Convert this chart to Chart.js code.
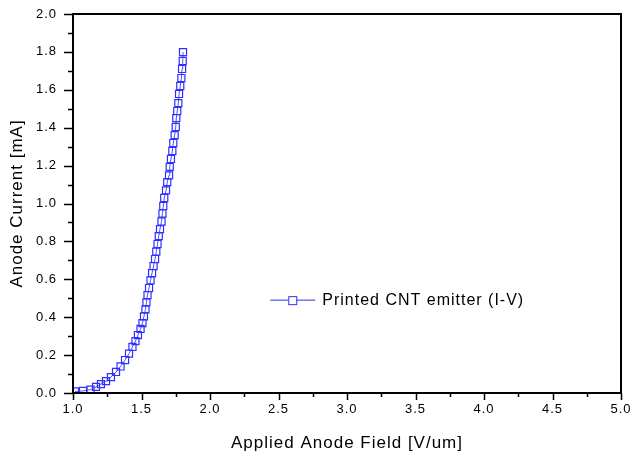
<!DOCTYPE html>
<html>
<head>
<meta charset="utf-8">
<script src="https://cdn.jsdelivr.net/npm/chart.js@4/dist/chart.umd.min.js"></script>
<style>
  html, body { margin: 0; padding: 0; background: #fff; }
  canvas { display: block; }
</style>
</head>
<body>
<canvas id="grafica" width="634" height="458"></canvas>
<script>
// Applied anode field [V/um] and anode current [mA]
const fieldValues = [1.015, 1.073, 1.128, 1.168, 1.204, 1.241, 1.277, 1.314, 1.347, 1.380,
  1.409, 1.434, 1.456, 1.474, 1.493, 1.507, 1.518, 1.529, 1.536, 1.544,
  1.555, 1.566, 1.577, 1.588, 1.599, 1.608, 1.617, 1.626, 1.635, 1.646,
  1.653, 1.659, 1.666, 1.679, 1.688, 1.701, 1.706, 1.715, 1.725, 1.732,
  1.742, 1.750, 1.754, 1.761, 1.769, 1.774, 1.783, 1.791, 1.796, 1.801, 1.803];
const currentValues = [0.008, 0.011, 0.018, 0.032, 0.047, 0.063, 0.084, 0.111, 0.140, 0.174,
  0.208, 0.243, 0.274, 0.306, 0.338, 0.369, 0.404, 0.441, 0.478, 0.517,
  0.554, 0.594, 0.633, 0.670, 0.707, 0.746, 0.786, 0.828, 0.865, 0.905,
  0.947, 0.987, 1.029, 1.069, 1.113, 1.148, 1.193, 1.235, 1.277, 1.319,
  1.361, 1.404, 1.451, 1.488, 1.530, 1.578, 1.620, 1.662, 1.710, 1.752, 1.799];

const serieNombre = 'Printed CNT emitter (I-V)';
const xTitulo = 'Applied Anode Field [V/um]';
const yTitulo = 'Anode Current [mA]';
const xRango = [1.0, 5.0];
const yRango = [0.0, 2.0];
const xPaso = 0.5;
const yPaso = 0.2;

const azul = '#2f2fff';
const fuente = 'Liberation Sans, Arial, sans-serif';

const puntos = fieldValues.map((x, i) => ({ x, y: currentValues[i] }));

// spacing of the letters, like the original picture
const espaciado = {
  id: 'espaciado',
  beforeLayout(chart) { chart.ctx.letterSpacing = '1px'; },
  beforeDraw(chart) { chart.ctx.letterSpacing = '1px'; }
};

// fixed size for the axis boxes, without the extra label padding
function tamanoFijo(prop, valor) {
  return (s) => {
    s[prop] = valor;
    s.paddingTop = 0;
    s.paddingBottom = 0;
    s.paddingLeft = 0;
    s.paddingRight = 0;
  };
}

// frame, major and minor ticks drawn from the scales
const marco = {
  id: 'marco',
  afterDraw(chart) {
    const { ctx, chartArea: a } = chart;
    const sx = chart.scales.x;
    const sy = chart.scales.y;
    ctx.save();
    ctx.strokeStyle = '#000';
    ctx.lineWidth = 1.5;
    ctx.beginPath();
    for (let v = yRango[0]; v <= yRango[1] + 1e-9; v += yPaso / 2) {
      const py = Math.round(sy.getPixelForValue(v)) + 0.5;
      const mayor = Math.abs(v / yPaso - Math.round(v / yPaso)) < 1e-6;
      ctx.moveTo(a.left - (mayor ? 9 : 5), py);
      ctx.lineTo(a.left, py);
    }
    for (let v = xRango[0]; v <= xRango[1] + 1e-9; v += xPaso / 2) {
      const px = Math.round(sx.getPixelForValue(v)) + 0.5;
      const mayor = Math.abs(v / xPaso - Math.round(v / xPaso)) < 1e-6;
      ctx.moveTo(px, a.bottom);
      ctx.lineTo(px, a.bottom + (mayor ? 7 : 4));
    }
    ctx.stroke();
    ctx.lineWidth = 2;
    ctx.strokeRect(a.left, a.top, a.right - a.left, a.bottom - a.top);
    ctx.restore();
  }
};

// legend inside the plot
const leyenda = {
  id: 'leyenda',
  afterDraw(chart) {
    const { ctx } = chart;
    const sx = chart.scales.x;
    const sy = chart.scales.y;
    const x0 = sx.getPixelForValue(2.44);
    const y0 = sy.getPixelForValue(0.49);
    ctx.save();
    ctx.letterSpacing = '1px';
    ctx.strokeStyle = azul;
    ctx.lineWidth = 1;
    ctx.beginPath();
    ctx.moveTo(x0, y0);
    ctx.lineTo(x0 + 45, y0);
    ctx.stroke();
    ctx.fillStyle = '#fff';
    ctx.fillRect(x0 + 18, y0 - 4, 8, 8);
    ctx.strokeRect(x0 + 18.5, y0 - 3.5, 8, 8);
    ctx.fillStyle = '#000';
    ctx.font = '16px ' + fuente;
    ctx.textBaseline = 'middle';
    ctx.fillText(serieNombre, x0 + 52, y0);
    ctx.restore();
  }
};

new Chart(document.getElementById('grafica'), {
  type: 'line',
  data: {
    datasets: [{
      label: serieNombre,
      data: puntos,
      borderColor: '#5050ff',
      borderWidth: 1,
      pointStyle: 'rect',
      pointRadius: 5,
      pointBorderWidth: 1.2,
      pointBorderColor: azul,
      pointBackgroundColor: 'rgba(0,0,0,0)',
      tension: 0
    }]
  },
  options: {
    responsive: false,
    animation: false,
    layout: { padding: { top: 14, right: 13, left: 0, bottom: 0 } },
    plugins: {
      legend: { display: false },
      tooltip: { enabled: false }
    },
    scales: {
      x: {
        type: 'linear',
        min: xRango[0],
        max: xRango[1],
        afterFit: tamanoFijo('height', 65),
        grid: { display: false, drawTicks: false },
        border: { display: false },
        ticks: {
          stepSize: xPaso,
          padding: 9,
          color: '#000',
          font: { family: fuente, size: 13 },
          maxRotation: 0,
          callback: (v) => Number(v).toFixed(1)
        },
        title: {
          display: true,
          text: xTitulo,
          color: '#000',
          font: { family: fuente, size: 17 },
          padding: { top: 0, bottom: 4 }
        }
      },
      y: {
        type: 'linear',
        min: yRango[0],
        max: yRango[1],
        afterFit: tamanoFijo('width', 73),
        grid: { display: false, drawTicks: false },
        border: { display: false },
        ticks: {
          stepSize: yPaso,
          padding: 16,
          color: '#000',
          font: { family: fuente, size: 13 },
          callback: (v) => Number(v).toFixed(1)
        },
        title: {
          display: true,
          text: yTitulo,
          color: '#000',
          font: { family: fuente, size: 17 },
          padding: { top: 7, bottom: 0 }
        }
      }
    }
  },
  plugins: [espaciado, marco, leyenda]
});
</script>
</body>
</html>
